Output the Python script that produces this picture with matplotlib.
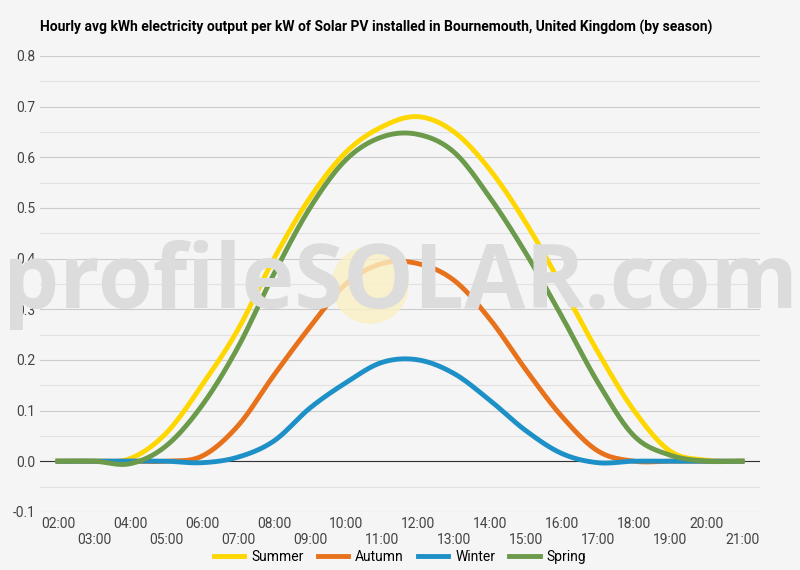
import numpy as np
import matplotlib.pyplot as plt
from matplotlib.patches import Circle

hours = list(range(2, 22))
summer = [0, 0, 0.005, 0.055, 0.15, 0.26, 0.40, 0.52, 0.61, 0.66, 0.68, 0.65, 0.575, 0.47, 0.345, 0.215, 0.10, 0.02, 0.002, 0]
autumn = [0, 0, 0, 0, 0.01, 0.07, 0.17, 0.265, 0.35, 0.39, 0.39, 0.357, 0.28, 0.18, 0.088, 0.02, 0, 0, 0, 0]
winter = [0, 0, 0, 0, -0.003, 0.008, 0.04, 0.105, 0.155, 0.195, 0.2, 0.173, 0.12, 0.06, 0.015, -0.003, 0, 0, 0, 0]
spring = [0, 0, -0.005, 0.03, 0.11, 0.225, 0.37, 0.50, 0.595, 0.64, 0.645, 0.61, 0.52, 0.41, 0.285, 0.155, 0.05, 0.012, 0, 0]
series = [("Summer", summer, "#ffd700"), ("Autumn", autumn, "#e8711c"),
          ("Winter", winter, "#1e90c8"), ("Spring", spring, "#6a9a4a")]


def smooth(x, y, n=20):
    # Catmull-Rom spline through the hourly points
    x = np.asarray(x, float); y = np.asarray(y, float)
    xp = np.concatenate([[2 * x[0] - x[1]], x, [2 * x[-1] - x[-2]]])
    yp = np.concatenate([[y[0]], y, [y[-1]]])
    xs, ys = [], []
    t = np.linspace(0, 1, n, endpoint=False)
    for i in range(1, len(xp) - 2):
        p0, p1, p2, p3 = yp[i - 1:i + 3]
        ys.append(0.5 * (2 * p1 + (-p0 + p2) * t + (2 * p0 - 5 * p1 + 4 * p2 - p3) * t ** 2
                         + (-p0 + 3 * p1 - 3 * p2 + p3) * t ** 3))
        xs.append(xp[i] + (xp[i + 1] - xp[i]) * t)
    return np.concatenate(xs + [[x[-1]]]), np.concatenate(ys + [[y[-1]]])


bg = "#f5f5f5"
fig = plt.figure(figsize=(8, 5.7), dpi=100, facecolor=bg)
ax = fig.add_axes([0.05, 0.102, 0.90, 0.80], facecolor=bg)

# watermark
fig.text(0.5, 0.50, "profileSOLAR.com", ha="center", va="center",
         fontsize=64, color="#dcdcdc", family="Open Sans", fontweight="bold", zorder=1)
sun = Circle((3.70, 2.85), 0.38, transform=fig.dpi_scale_trans, color="#fbf0c4", alpha=0.8, zorder=0.5)
fig.patches.append(sun)

for name, vals, c in series:
    xs, ys = smooth(hours, vals)
    ax.plot(xs, ys, color=c, lw=3.5, label=name, zorder=3)

ax.set_xlim(1.5, 21.5)
ax.set_ylim(-0.1, 0.8)
ticks = np.arange(-0.1, 0.81, 0.1)
ax.set_yticks(ticks)
ax.set_yticklabels([f"{v:.1f}" for v in ticks], fontsize=10, color="#444", family="Roboto")
ax.set_yticks(np.arange(-0.05, 0.8, 0.1), minor=True)
ax.yaxis.grid(True, which="major", color="#cccccc", lw=0.8)
ax.yaxis.grid(True, which="minor", color="#e2e2e2", lw=0.8)
ax.axhline(0, color="#333", lw=0.8, zorder=2)
ax.set_xticks(hours)
ax.set_xticklabels([f"{h:02d}:00" if h % 2 == 0 else f"\n{h:02d}:00" for h in hours],
                   fontsize=10, color="#444", family="Roboto")
ax.tick_params(which="both", length=0)
for s in ax.spines.values():
    s.set_visible(False)

fig.text(0.05, 0.945, "Hourly avg kWh electricity output per kW of Solar PV installed in Bournemouth, United Kingdom (by season)",
         fontsize=10, fontweight="bold", family="Roboto")
fig.legend(loc="lower center", ncol=4, frameon=False, bbox_to_anchor=(0.5, -0.012),
           handlelength=2.2, handletextpad=0.5, columnspacing=1.0, prop={"family": "Roboto", "size": 10})
fig.savefig("out.png", dpi=100, facecolor=bg)
